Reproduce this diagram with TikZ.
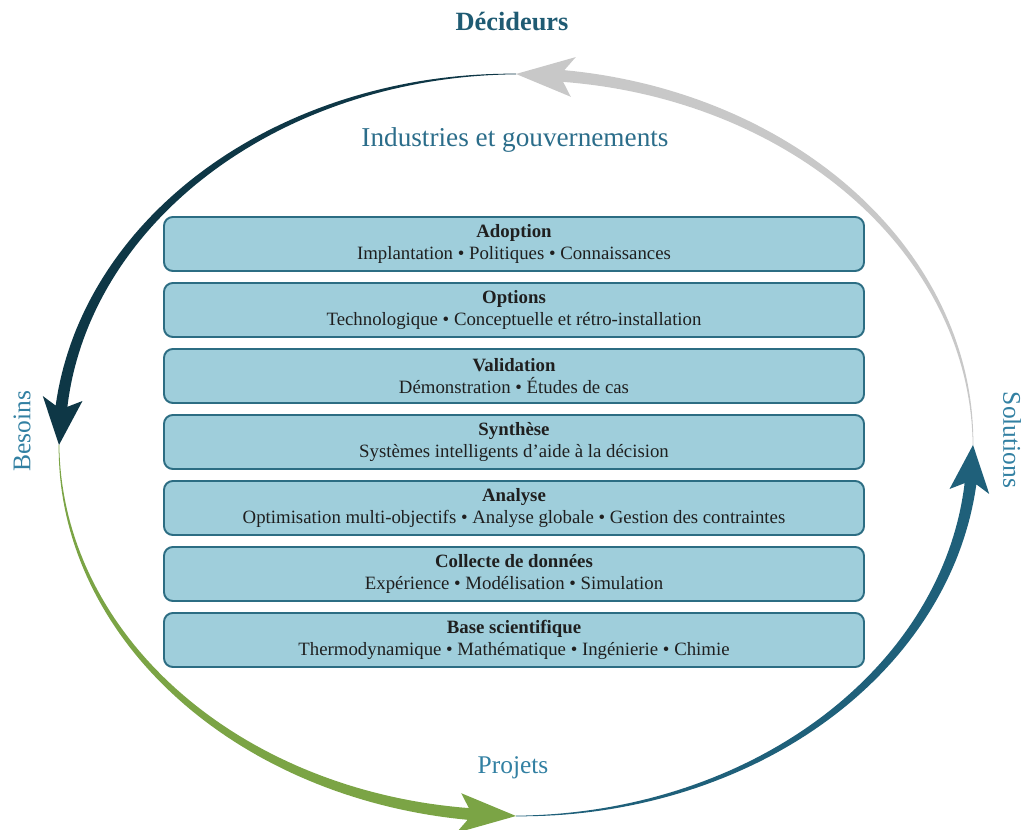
\documentclass[tikz,border=0pt]{standalone}
\usepackage{fontspec}
\setmainfont{Liberation Serif}
\usetikzlibrary{positioning}

\definecolor{arcgray}{HTML}{C8C8C8}
\definecolor{arcnavy}{HTML}{0E3746}
\definecolor{arcgreen}{HTML}{7BA445}
\definecolor{arcteal}{HTML}{1F607A}
\definecolor{boxfill}{HTML}{9FCEDB}
\definecolor{boxline}{HTML}{2C6D83}
\definecolor{titleblue}{HTML}{1F5B73}
\definecolor{labelblue}{HTML}{3280A2}

\begin{document}
\begin{tikzpicture}[x=0.02cm, y=0.02cm,
    box/.style={draw=boxline, line width=1.1pt, fill=boxfill, rounded corners=5pt,
      minimum width=700*0.02cm, minimum height=54*0.02cm, align=center, text=black!88,
      inner sep=0pt, font=\fontsize{10.7}{12.6}\selectfont},
    cyclelabel/.style={text=labelblue, font=\fontsize{14.5}{16}\selectfont}]
  \useasboundingbox (0,0) rectangle (1024,830);

  % 1. quatre arcs effilés (ellipse centre (516,385), rayons 457 x 371)
  \foreach \a/\col in {0/arcgray, 90/arcnavy, 180/arcgreen, 270/arcteal}{
    \pgfmathsetmacro{\b}{\a+84}
    \pgfmathsetmacro{\e}{\a+90}
    \fill[\col]
      plot[domain=\a:\b, samples=70] ({516+(457+0.3+5.6*(\x-\a)/84)*cos(\x)}, {385+(371+0.3+5.6*(\x-\a)/84)*sin(\x)})
      -- ({516+477*cos(\b-1.2)}, {385+391*sin(\b-1.2)})
      -- ({516+457*cos(\e)}, {385+371*sin(\e)})
      -- ({516+437*cos(\b-1.2)}, {385+351*sin(\b-1.2)})
      -- plot[domain=\b:\a, samples=70] ({516+(457-0.3-5.6*(\x-\a)/84)*cos(\x)}, {385+(371-0.3-5.6*(\x-\a)/84)*sin(\x)})
      -- cycle;
  }

  % 2. libellés du cycle
  \node[text=titleblue, font=\fontsize{15}{17}\selectfont\bfseries] (dec) at (512,808) {Décideurs};
  \node[cyclelabel, text=labelblue!85!black, font=\fontsize{15.5}{17}\selectfont] (ind) at (515,690) {Industries et gouvernements};
  \node[cyclelabel, rotate=90] (bes) at (22,399) {Besoins};
  \node[cyclelabel, rotate=-90] (sol) at (1012,390) {Solutions};
  \node[cyclelabel] (proj) at (513,62) {Projets};

  % 3. pile des étapes
  \foreach \t/\s [count=\i] in {
      Adoption/Implantation \textbullet{} Politiques \textbullet{} Connaissances,
      Options/Technologique \textbullet{} Conceptuelle et rétro-installation,
      Validation/Démonstration \textbullet{} Études de cas,
      Synthèse/Systèmes intelligents d’aide à la décision,
      Analyse/Optimisation multi-objectifs \textbullet{} Analyse globale \textbullet{} Gestion des contraintes,
      Collecte de données/Expérience \textbullet{} Modélisation \textbullet{} Simulation,
      Base scientifique/Thermodynamique \textbullet{} Mathématique \textbullet{} Ingénierie \textbullet{} Chimie}
    \node[box] (b\i) at (514,{652-66*\i}) {\textbf{\t}\\\s};
\end{tikzpicture}
\end{document}
